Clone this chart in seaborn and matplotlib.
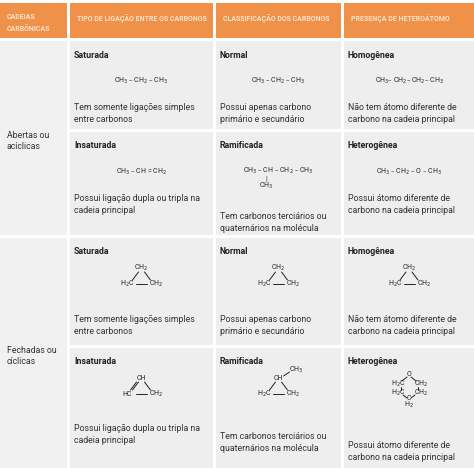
import matplotlib
matplotlib.use("Agg")
import matplotlib.pyplot as plt
import seaborn as sns
from matplotlib.patches import Rectangle

sns.set_theme(style="white")
plt.rcParams['font.family'] = ['Roboto', 'DejaVu Sans']

headers = ["CADEIAS\nCARBÔNICAS", "TIPO DE LIGAÇÃO ENTRE OS CARBONOS",
           "CLASSIFICAÇÃO DOS CARBONOS", "PRESENÇA DE HETEROÁTOMO"]
groups = ["Abertas ou\nacíclicas", "Fechadas ou\ncíclicas"]
titles = [["Saturada", "Normal", "Homogênea"],
          ["Insaturada", "Ramificada", "Heterogênea"],
          ["Saturada", "Normal", "Homogênea"],
          ["Insaturada", "Ramificada", "Heterogênea"]]
descs = [["Tem somente ligações simples\nentre carbonos", "Possui apenas carbono\nprimário e secundário",
          "Não tem átomo diferente de\ncarbono na cadeia principal"],
         ["Possui ligação dupla ou tripla na\ncadeia principal", "Tem carbonos terciários ou\nquaternários na molécula",
          "Possui átomo diferente de\ncarbono na cadeia principal"]] * 2
formulas = [["CH$_3$ – CH$_2$ – CH$_3$", "CH$_3$ – CH$_2$ – CH$_3$", "CH$_3$– CH$_2$– CH$_2$– CH$_3$"],
            ["CH$_3$ – CH = CH$_2$", "branch", "CH$_3$ – CH$_2$ – O – CH$_3$"],
            ["ring", "ring", "ring"],
            ["ringene", "ringbranch", "hetero"]]

fig = plt.figure(figsize=(4.74, 4.68), dpi=100)
ax = fig.add_axes([0, 0, 1, 1])
ax.set_xlim(0, 474); ax.set_ylim(468, 0); ax.axis("off")

cols = [(0, 67), (70, 213), (216, 341), (344, 474)]
orange = "#F0914A"
for (x0, x1), h in zip(cols, headers):
    ax.add_patch(Rectangle((x0, 3), x1 - x0, 35, color=orange, lw=0))
    ax.text(x0 + 7, 13 if "\n" in h else 14, h, color="#FCE3CF", fontsize=5, fontweight="bold",
            va="top", linespacing=1.6)

subrows = [(41, 129), (132, 235), (238, 345), (348, 468)]
grows = [(41, 235), (238, 468)]
for (y0, y1), g in zip(grows, groups):
    ax.add_patch(Rectangle((0, y0), 67, y1 - y0, color="#F1F1F1", lw=0))
    ax.text(7, (y0 + y1) / 2 + 3, g, fontsize=6.3, color="#333333", va="center", linespacing=1.3)

fs = 6.3
fk = dict(fontsize=5, color="#222222", ha="center", va="center")

def line(a, b, c, d, **k):
    ax.plot([a, c], [b, d], color="#222222", lw=0.7, **k)

def draw(kind, cx, cy):
    if kind == "branch":
        ax.text(cx, cy, "CH$_3$ – CH – CH$_2$ – CH$_3$", **fk)
        ax.text(cx - 12, cy + 8, "|", **fk)
        ax.text(cx - 12, cy + 15, "CH$_3$", **fk)
    elif kind in ("ring", "ringene", "ringbranch"):
        top = {"ring": "CH$_2$", "ringene": "CH", "ringbranch": "CH"}[kind]
        left = "HC" if kind == "ringene" else "H$_2$C"
        right = "CH$_2$"
        ax.text(cx, cy - 12, top, **fk)
        ax.text(cx - 14, cy + 4, left, **fk)
        ax.text(cx + 15, cy + 4, right, **fk)
        line(cx - 3, cy - 8, cx - 9, cy)
        line(cx + 3, cy - 8, cx + 9, cy)
        if kind == "ringene":
            line(cx - 5, cy - 8, cx - 11, cy)
        line(cx - 5, cy + 4, cx + 6, cy + 4)
        if kind == "ringbranch":
            line(cx + 5, cy - 14, cx + 11, cy - 18)
            ax.text(cx + 18, cy - 20, "CH$_3$", **fk)
    elif kind == "hetero":
        ax.text(cx, cy - 15, "O", **fk)
        ax.text(cx - 11, cy - 6, "H$_2$C", **fk)
        ax.text(cx + 12, cy - 6, "CH$_2$", **fk)
        ax.text(cx - 11, cy + 3, "H$_2$C", **fk)
        ax.text(cx + 12, cy + 3, "CH$_2$", **fk)
        ax.text(cx, cy + 9, "C", **fk)
        ax.text(cx, cy + 15, "H$_2$", **fk)
        line(cx - 2, cy - 13, cx - 7, cy - 9)
        line(cx + 2, cy - 13, cx + 7, cy - 9)
        line(cx - 8, cy - 3, cx - 8, cy)
        line(cx + 9, cy - 3, cx + 9, cy)
        line(cx - 6, cy + 5, cx - 2, cy + 8)
        line(cx + 6, cy + 5, cx + 2, cy + 8)
    else:
        ax.text(cx, cy, kind, **fk)

desc_off = {(0, 0): 62, (0, 1): 62, (0, 2): 62,
            (1, 0): 62, (1, 1): 80, (1, 2): 62,
            (2, 0): 77, (2, 1): 77, (2, 2): 77,
            (3, 0): 76, (3, 1): 84, (3, 2): 93}

for r, (y0, y1) in enumerate(subrows):
    for c in range(3):
        x0, x1 = cols[c + 1]
        ax.add_patch(Rectangle((x0, y0), x1 - x0, y1 - y0, color="#EEEEEE", lw=0))
        ax.text(x0 + 4, y0 + 14, titles[r][c], fontsize=fs, fontweight="bold", color="#222222", va="center")
        closed = r >= 2
        fy = y0 + (42 if closed else 40)
        if formulas[r][c] == "branch":
            fy = y0 + 39
        draw(formulas[r][c], (x0 + x1) / 2, fy)
        ax.text(x0 + 4, y0 + desc_off[(r, c)], descs[r][c], fontsize=fs, color="#333333",
                va="top", linespacing=1.45)

fig.savefig("out.png", dpi=100)
